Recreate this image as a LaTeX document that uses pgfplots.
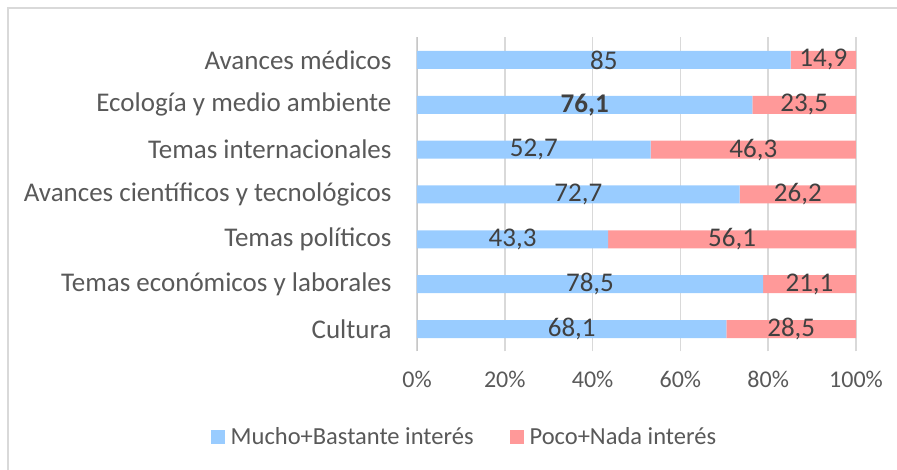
\documentclass[border=0pt]{standalone}
\usepackage{fontspec}
\setmainfont{Carlito}
\usepackage{pgfplots}
\pgfplotsset{compat=1.18}
\usepackage{pgfplotstable}
\definecolor{azul}{HTML}{99CCFF}
\definecolor{rosa}{HTML}{FF9999}
\definecolor{texto}{HTML}{595959}
\definecolor{etiq}{HTML}{404040}
\definecolor{rejilla}{HTML}{D9D9D9}

% y: 0 = Cultura (abajo) ... 6 = Avances médicos (arriba)
\pgfplotstableread{
y a b
0 68.1 28.5
1 78.5 21.1
2 43.3 56.1
3 72.7 26.2
4 52.7 46.3
5 76.1 23.5
6 85 14.9
}\datos

\begin{document}
\begin{tikzpicture}
\path[use as bounding box] (0pt,0pt) rectangle (897pt,470pt);
\draw[rejilla, line width=1.5pt] (8pt,0pt) -- (8pt,462pt) -- (897pt,462pt);
\pgfplotsset{base/.style={
    scale only axis, width=439pt, height=314pt,
    at={(417pt,118.5pt)}, anchor=south west,
    xmin=0, xmax=100, ymin=-0.5, ymax=6.5,
    /pgf/number format/assume math mode=true,
}}
\begin{axis}[base, xbar stacked, bar width=18pt,
    axis line style={draw=none},
    grid=none, xmajorgrids, grid style={rejilla, line width=1.5pt},
    xtick={0,20,...,100},
    xticklabel={\pgfmathprintnumber{\tick}\%},
    ytick={0,...,6},
    yticklabels={Cultura, Temas económicos y laborales, Temas políticos,
        Avances científicos y tecnológicos, Temas internacionales,
        Ecología y medio ambiente, Avances médicos},
    major tick length=0pt,
    tick label style={text=texto},
    xticklabel style={font=\fontsize{24}{28}\selectfont, yshift=-16pt},
    yticklabel style={font=\fontsize{27}{31}\selectfont, xshift=-22pt},
    legend style={at={(0.108,-0.272)}, anchor=center, draw=none,
        legend columns=2, font=\fontsize{24.5}{28}\selectfont, text=texto,
        /tikz/every odd column/.append style={column sep=4pt},
        /tikz/every even column/.append style={column sep=34pt}},
    legend image code/.code={\fill[#1] (0pt,-7pt) rectangle (14pt,7pt);},
]
\addplot[fill=azul, draw=none] table[x expr=\thisrow{a}/(\thisrow{a}+\thisrow{b})*100, y=y]{\datos};
\addlegendentry{Mucho+Bastante interés}
\addplot[fill=rosa, draw=none] table[x expr=\thisrow{b}/(\thisrow{a}+\thisrow{b})*100, y=y]{\datos};
\addlegendentry{Poco+Nada interés}
\draw[color=rejilla!80!gray, line width=1.5pt] (rel axis cs:0,0) -- (rel axis cs:0,1);
\end{axis}
\begin{axis}[base, axis lines=none,
    /pgf/number format/.cd, use comma, fixed, precision=1]
\addplot[only marks, mark=none, nodes near coords, point meta=explicit,
    every node near coord/.style={anchor=center, text=etiq, font=\fontsize{27}{31}\selectfont},
    skip coords between index={5}{6}]
    table[x expr=\thisrow{a}/(\thisrow{a}+\thisrow{b})*50, y=y, meta=a]{\datos};
\addplot[only marks, mark=none, nodes near coords, point meta=explicit,
    every node near coord/.style={anchor=center, text=etiq, font=\fontsize{27}{31}\selectfont\bfseries},
    skip coords between index={0}{5}, skip coords between index={6}{7}]
    table[x expr=\thisrow{a}/(\thisrow{a}+\thisrow{b})*50, y=y, meta=a]{\datos};
\addplot[only marks, mark=none, nodes near coords, point meta=explicit,
    every node near coord/.style={anchor=center, text=etiq, font=\fontsize{27}{31}\selectfont}]
    table[x expr=(\thisrow{a}+\thisrow{b}/2)/(\thisrow{a}+\thisrow{b})*100, y=y, meta=b]{\datos};
\end{axis}
\end{tikzpicture}
\end{document}
